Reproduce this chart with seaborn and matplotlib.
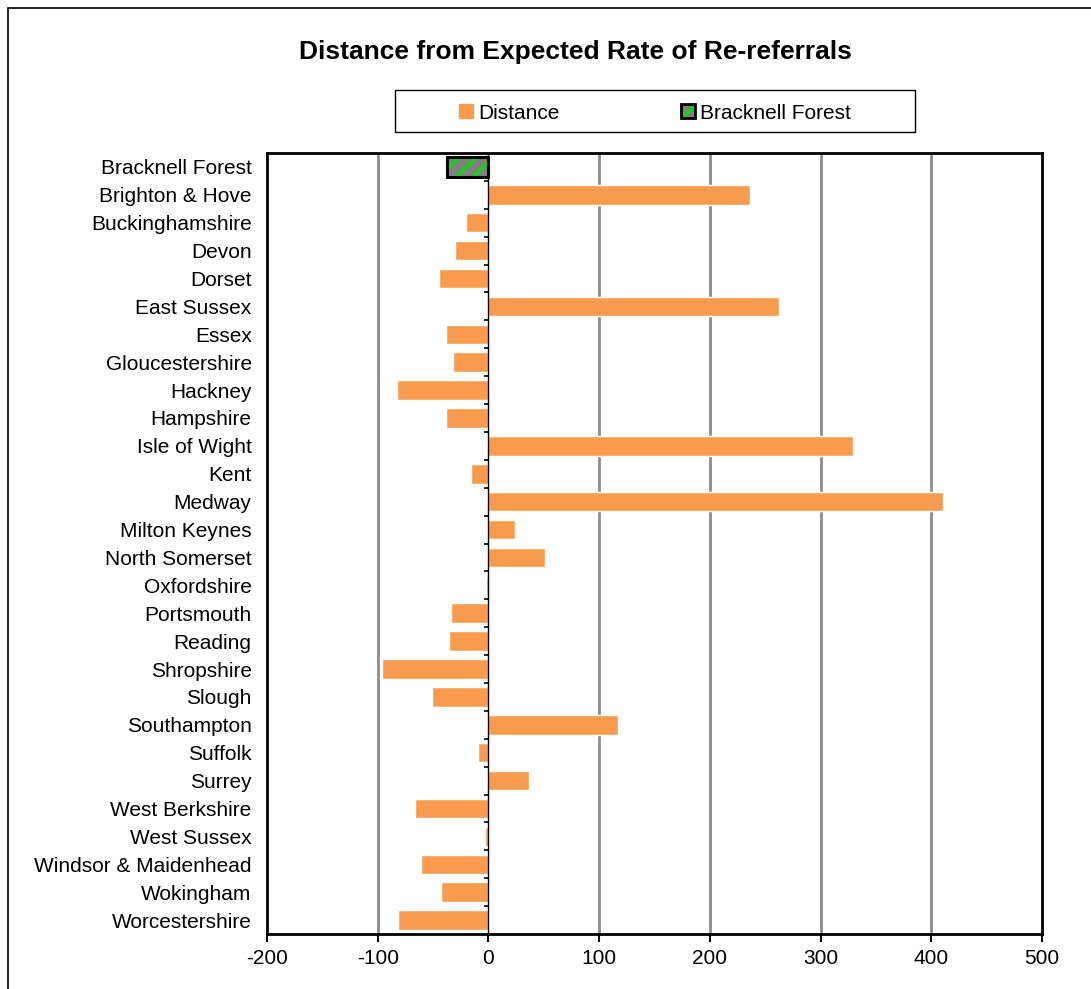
import numpy as np
import pandas as pd
import matplotlib
matplotlib.use("Agg")
import matplotlib.pyplot as plt
import seaborn as sns
from matplotlib.patches import Patch, Rectangle

areas = [
    "Bracknell Forest", "Brighton & Hove", "Buckinghamshire", "Devon", "Dorset",
    "East Sussex", "Essex", "Gloucestershire", "Hackney", "Hampshire",
    "Isle of Wight", "Kent", "Medway", "Milton Keynes", "North Somerset",
    "Oxfordshire", "Portsmouth", "Reading", "Shropshire", "Slough",
    "Southampton", "Suffolk", "Surrey", "West Berkshire", "West Sussex",
    "Windsor & Maidenhead", "Wokingham", "Worcestershire",
]
distance = [
    -37, 236, -20, -30, -45,
    262, -38, -32, -83, -38,
    329, -16, 411, 24, 51,
    -2.5, -34, -36, -96, -51,
    117, -9.5, 37, -66, -2.8,
    -61, -43, -82,
]
highlight = "Bracknell Forest"
xticks = [-200, -100, 0, 100, 200, 300, 400, 500]

orange = "#F99B4E"

sns.set_style("white")
plt.rcParams["font.family"] = ["Liberation Sans", "DejaVu Sans"]
plt.rcParams["hatch.linewidth"] = 2.2
plt.rcParams["text.color"] = "black"
plt.rcParams["xtick.color"] = "black"
plt.rcParams["ytick.color"] = "black"

df = pd.DataFrame({"area": areas, "distance": distance})
df["group"] = np.where(df["area"] == highlight, highlight, "Distance")

fig = plt.figure(figsize=(10.91, 9.89), dpi=100)
ax = fig.add_axes([267 / 1091, 1 - 934 / 989, (1042 - 267) / 1091, (934 - 153) / 989])

sns.barplot(
    data=df, x="distance", y="area", hue="group",
    palette={"Distance": orange, highlight: "#808080"}, saturation=1,
    dodge=False, width=0.7, orient="h", legend=False, ax=ax, zorder=3,
)

# hatch the highlighted bar and give it a black outline
for p in ax.patches:
    if abs(p.get_y() + p.get_height() / 2) < 0.01 and p.get_facecolor()[0] < 0.6:
        p.set_hatch("//")
        p.set_edgecolor("#00E000")
        p.set_linewidth(0)
        ax.add_patch(Rectangle((p.get_x(), p.get_y()), p.get_width(), p.get_height(),
                               fill=False, edgecolor="black", lw=2.2, zorder=4))

ax.set_xlim(-200, 500)
ax.set_ylim(len(areas) - 0.5, -0.5)
ax.set_xticks(xticks)
ax.set_xticklabels([str(t) for t in xticks], fontsize=15)
ax.set_xlabel("")
ax.set_ylabel("")
ax.tick_params(axis="x", direction="out", length=6, width=1.5, color="black", pad=5, bottom=True)
ax.tick_params(axis="y", length=0, pad=11, labelsize=15)

ax.grid(False)
for t in xticks[1:-1]:
    if t != 0:
        ax.axvline(t, color="#8C8C8C", lw=2, zorder=1)
ax.axvline(0, color="black", lw=1, zorder=5)
# small ticks on the zero line between categories
ax.hlines(np.arange(len(areas) - 1) + 0.5, -4, 0, color="black", lw=1.2, zorder=5)

for s in ax.spines.values():
    s.set_visible(True)
    s.set_color("black")
    s.set_linewidth(2)

fig.text(575 / 1091, 1 - 52 / 989, "Distance from Expected Rate of Re-referrals",
         ha="center", va="center", fontsize=19, fontweight="bold")

handles = [
    Patch(facecolor=orange, edgecolor=orange),
    (Patch(facecolor="#808080", edgecolor="#00E000", hatch="//", lw=0),
     Patch(facecolor="none", edgecolor="black", lw=2)),
]
leg = fig.legend(handles, ["Distance", highlight], loc="center",
                 bbox_to_anchor=(655 / 1091, 1 - 113 / 989), ncol=2,
                 fontsize=15, frameon=False,
                 handlelength=0.68, handleheight=0.68, handletextpad=0.25,
                 columnspacing=5.8, borderpad=0, borderaxespad=0)

# legend box, wider than the entries as in the original
fig.patches.append(Rectangle((395 / 1091, 1 - 132 / 989), 520 / 1091, 42 / 989,
                             transform=fig.transFigure, fill=False,
                             edgecolor="black", lw=1))

# outer chart border
fig.patches.append(Rectangle((8 / 1091, -0.1), 1.2, 1 - 8 / 989 + 0.1,
                             transform=fig.transFigure, fill=False,
                             edgecolor="black", lw=1.2))

fig.savefig("out.png", dpi=100)
